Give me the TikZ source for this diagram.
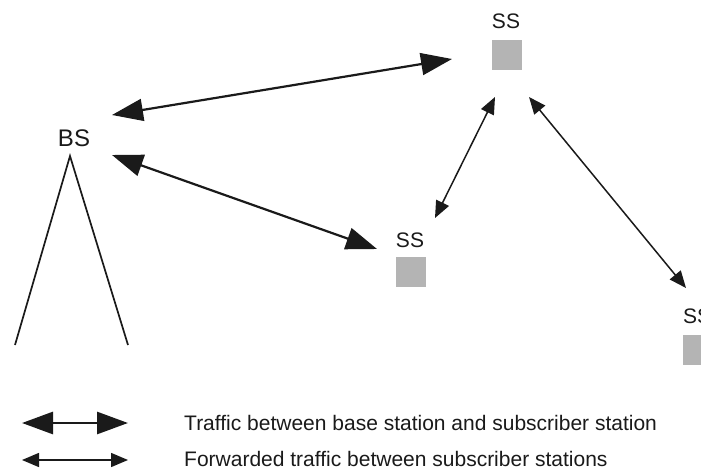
\documentclass[tikz,border=0pt]{standalone}
\usepackage{fontspec}
\setmainfont{Liberation Sans}
\usetikzlibrary{arrows.meta}
\definecolor{ink}{HTML}{1A1A1A}
\definecolor{boxgray}{HTML}{B4B4B4}
\begin{document}
\begin{tikzpicture}[x=1pt,y=-1pt,
  lbl/.style={font=\fontsize{21}{21}\selectfont, text=ink, inner sep=0pt},
  legtext/.style={font=\fontsize{21}{21}\selectfont, text=ink, inner sep=0pt, anchor=west},
  station/.style={fill=boxgray, draw=none, minimum size=30pt, inner sep=0pt},
  direct/.style={draw=ink, line width=2.2pt, {Triangle[length=31pt,width=22pt]}-{Triangle[length=31pt,width=22pt]}},
  relay/.style={draw=ink, line width=1.5pt, {Triangle[length=17pt,width=14pt]}-{Triangle[length=17pt,width=14pt]}},
  mast/.style={draw=ink, line width=1.7pt}]
\useasboundingbox[fill=white] (0,0) rectangle (701,470);

% base station with its antenna mast
\node[lbl, font=\fontsize{24}{24}\selectfont] (bs) at (74,138) {BS};
\coordinate (apex) at (70,156);
\coordinate (footL) at (15,345);
\coordinate (footR) at (128,345);
\draw[mast] (footL) -- (apex) -- (footR);

% subscriber stations
\node[lbl] (ssA) at (506,21) {SS};
\node[station] (boxA) at (507,55) {};
\node[lbl] (ssB) at (410,240) {SS};
\node[station] (boxB) at (411,272) {};
\node[lbl] (ssC) at (697,316) {SS};
\node[station] (boxC) at (698,350) {};

% arrow end points
\coordinate (bsUp) at (112,115);
\coordinate (bsDown) at (112,155);
\coordinate (aLeft) at (452,59);
\coordinate (bIn) at (377,249);
\coordinate (aLow) at (495,97);
\coordinate (bUp) at (435,218);
\coordinate (aRight) at (529,97);
\coordinate (cUp) at (686,288);

% base station to subscriber traffic
\draw[direct] (bsUp) -- (aLeft);
\draw[direct] (bsDown) -- (bIn);

% forwarded traffic between subscriber stations
\draw[relay] (aLow) -- (bUp);
\draw[relay] (aRight) -- (cUp);

% legend
\coordinate (k1a) at (22,423);
\coordinate (k1b) at (128,423);
\coordinate (k2a) at (22,460);
\coordinate (k2b) at (128,460);
\draw[direct, line width=2.8pt] (k1a) -- (k1b);
\draw[relay] (k2a) -- (k2b);
\node[legtext] (t1) at (184,423) {Traffic between base station and subscriber station};
\node[legtext] (t2) at (184,459) {Forwarded traffic between subscriber stations};
\end{tikzpicture}
\end{document}
